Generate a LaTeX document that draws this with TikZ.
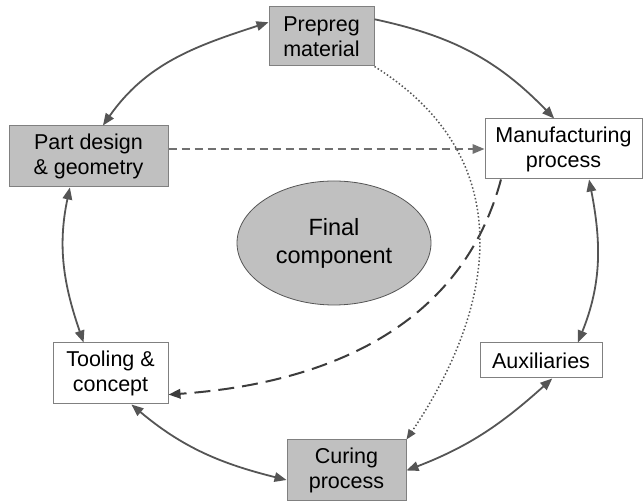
\documentclass[tikz,border=0pt]{standalone}
\usepackage{fontspec}
\setmainfont{Liberation Sans}
\usetikzlibrary{shapes.geometric,arrows.meta}
\definecolor{boxfill}{HTML}{C0C0C0}
\definecolor{boxline}{HTML}{808080}
\definecolor{arrowc}{HTML}{555555}
\definecolor{dashc}{HTML}{707070}
\definecolor{dotc}{HTML}{555555}
\definecolor{ldashc}{HTML}{3C3C3C}
\tikzset{
  box/.style={draw=boxline, line width=1pt, inner sep=0pt, align=center,
    font=\fontsize{21.5}{25}\selectfont, text=black},
  greybox/.style={box, fill=boxfill},
  whitebox/.style={box, fill=white},
  link/.style={draw=arrowc, line width=1.8pt, {Triangle[length=12pt,width=9.5pt]}-{Triangle[length=12pt,width=9.5pt]}},
  onelink/.style={draw=arrowc, line width=1.8pt, -{Triangle[length=12pt,width=9.5pt]}},
  dashlink/.style={draw=dashc, line width=1.8pt, dash pattern=on 8pt off 5pt, -{Triangle[length=12pt,width=9.5pt]}},
  ldashlink/.style={draw=ldashc, line width=2pt, dash pattern=on 16pt off 8pt, -{Triangle[length=12pt,width=9.5pt]}},
  dotlink/.style={draw=dotc, line width=1.5pt, dash pattern=on 1.5pt off 2.2pt, -{Triangle[length=10pt,width=8pt]}},
}
\begin{document}
\begin{tikzpicture}[x=1pt,y=1pt]
\useasboundingbox (0,0) rectangle (644,502);
\node[greybox, minimum width=105pt, minimum height=59pt] (prep) at (321.5,465.5) {Prepreg\\material};
\node[greybox, minimum width=159pt, minimum height=61pt] (part) at (88.5,345.5) {Part design\\\& geometry};
\node[whitebox, minimum width=157pt, minimum height=60pt] (manu) at (563.5,353) {Manufacturing\\process};
\node[whitebox, minimum width=115pt, minimum height=61pt] (tool) at (110.5,128.5) {Tooling \&\\concept};
\node[whitebox, minimum width=122pt, minimum height=35pt] (aux) at (541,141.5) {Auxiliaries};
\node[greybox, minimum width=119pt, minimum height=61pt] (cure) at (346.5,31.5) {Curing\\process};
\node[ellipse, draw=arrowc, line width=0.8pt, fill=boxfill, minimum width=194pt, minimum height=124pt, inner sep=0pt, align=center, font=\fontsize{23.5}{28}\selectfont] (final) at (334,259) {Final\\component};

\draw[link] (part.65) to[out=55,in=198] (prep.165);
\draw[onelink] (prep.18) to[out=-12,in=134] (manu.107);
\draw[link] (manu.-50) to[out=-79,in=68] (aux.26);
\draw[link] (aux.-58) to[out=-138,in=21] (cure.east);
\draw[link] (tool.-56) to[out=-40,in=166] (cure.189);
\draw[link] (part.-121) to[out=-102,in=109] (tool.131);
\draw[dashlink] (part.east |- manu.west) -- (manu.west);
\draw[ldashlink] (manu.206) to[out=-105,in=4] (tool.-20);
\draw[dotlink] (prep.south east) to[out=-32,in=56,looseness=1.15] (cure.north east);
\end{tikzpicture}
\end{document}
